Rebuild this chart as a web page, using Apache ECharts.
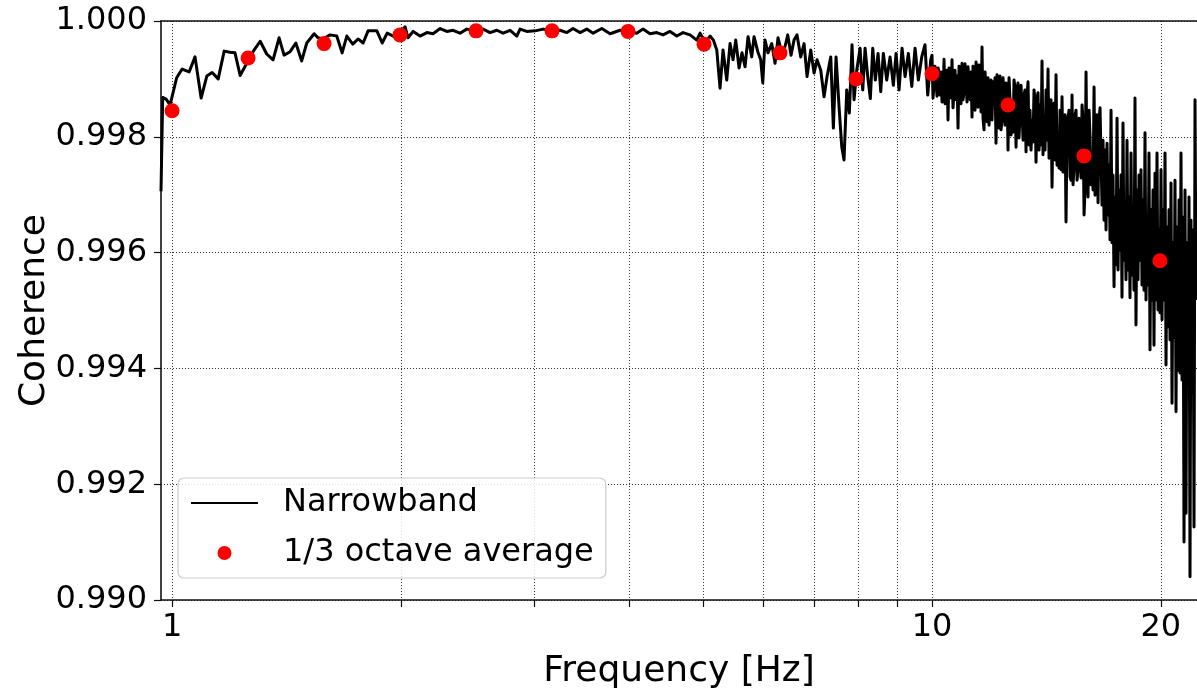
<!DOCTYPE html>
<html>
<head>
<meta charset="utf-8">
<script src="https://cdn.jsdelivr.net/npm/echarts@6.0.0/dist/echarts.min.js"></script>
<style>
  html, body { margin: 0; padding: 0; background: #fff; }
  #main { width: 1197px; height: 691px; }
</style>
</head>
<body>
<div id="main"></div>
<script>
// narrowband coherence, [frequency Hz, coherence]
const narrowband = [
  [0.967,0.99706],[0.972,0.99868],[0.982,0.99865],[0.994,0.99855],[1.014,0.99902],[1.031,0.99917],[1.053,0.99912],[1.072,0.99938],
  [1.092,0.99867],[1.111,0.99905],[1.129,0.99911],[1.150,0.99900],[1.171,0.99948],[1.192,0.99946],[1.210,0.99945],[1.229,0.99906],
  [1.254,0.99927],[1.278,0.99947],[1.306,0.99965],[1.332,0.99943],[1.358,0.99933],[1.383,0.99971],[1.404,0.99941],[1.430,0.99947],
  [1.455,0.99962],[1.481,0.99931],[1.504,0.99962],[1.538,0.99978],[1.556,0.99971],[1.580,0.99969],[1.614,0.99976],[1.647,0.99974],
  [1.674,0.99945],[1.698,0.99974],[1.729,0.99960],[1.757,0.99969],[1.784,0.99962],[1.811,0.99983],[1.860,0.99983],[1.890,0.99962],
  [1.919,0.99979],[1.954,0.99974],[1.990,0.99979],[2.026,0.99990],[2.044,0.99971],[2.076,0.99982],[2.120,0.99974],
  [2.164,0.99980],[2.205,0.99978],[2.253,0.99987],[2.299,0.99982],[2.343,0.99984],[2.393,0.99979],[2.442,0.99986],[2.505,0.99983],
  [2.566,0.99986],[2.621,0.99980],[2.675,0.99984],[2.726,0.99979],[2.785,0.99984],[2.842,0.99974],[2.870,0.99986],[2.929,0.99982],
  [3.004,0.99983],[3.078,0.99986],[3.160,0.99983],[3.240,0.99984],[3.307,0.99980],[3.370,0.99987],[3.443,0.99980],[3.513,0.99986],
  [3.581,0.99979],[3.677,0.99987],[3.770,0.99978],[3.886,0.99984],[3.981,0.99982],[4.087,0.99979],[4.166,0.99986],[4.255,0.99978],
  [4.343,0.99980],[4.426,0.99976],[4.521,0.99982],[4.614,0.99974],[4.703,0.99980],[4.804,0.99976],[4.902,0.99967],[4.952,0.99979],
  [5.027,0.99963],[5.104,0.99974],[5.156,0.99967],
  [5.209,0.99950],[5.261,0.99884],[5.309,0.99950],[5.369,0.99898],[5.423,0.99961],[5.472,0.99933],[5.517,0.99967],[5.573,0.99919],
  [5.623,0.99945],[5.675,0.99921],[5.727,0.99973],[5.791,0.99938],[5.832,0.99973],[5.898,0.99947],[5.951,0.99933],[5.988,0.99893],
  [6.029,0.99967],[6.084,0.99945],[6.153,0.99961],[6.215,0.99927],[6.272,0.99971],[6.342,0.99945],[6.406,0.99956],[6.459,0.99976],
  [6.524,0.99941],[6.583,0.99967],[6.643,0.99976],[6.718,0.99938],[6.786,0.99961],[6.848,0.99904],[6.925,0.99950],[6.995,0.99910],
  [7.058,0.99933],[7.138,0.99915],[7.210,0.99869],[7.276,0.99904],[7.358,0.99938],[7.416,0.99815],[7.477,0.99938],[7.545,0.99852],
  [7.607,0.99783],[7.660,0.99760],[7.723,0.99881],[7.784,0.99841],[7.848,0.99959],[7.896,0.99864],[7.961,0.99915],[8.041,0.99953],
  [8.107,0.99881],[8.164,0.99953],[8.230,0.99904],[8.296,0.99866],[8.356,0.99953],[8.422,0.99898],[8.492,0.99944],[8.561,0.99878],
  [8.629,0.99944],[8.718,0.99898],[8.806,0.99938],[8.895,0.99889],[8.968,0.99944],[9.050,0.99881],[9.132,0.99953],[9.216,0.99904],
  [9.308,0.99944],[9.405,0.99887],[9.499,0.99953],[9.595,0.99898],[9.694,0.99938],[9.790,0.99959],[9.871,0.99872],[9.961,0.99933],
  [10.000,0.99941],[10.030,0.99867],[10.061,0.99889],[10.091,0.99922],[10.122,0.99898],[10.153,0.99870],[10.184,0.99919],[10.215,0.99912],
  [10.246,0.99872],[10.277,0.99912],[10.308,0.99860],[10.339,0.99864],[10.371,0.99934],[10.402,0.99857],[10.434,0.99872],[10.466,0.99915],
  [10.497,0.99829],[10.529,0.99919],[10.561,0.99898],[10.593,0.99867],[10.625,0.99933],[10.657,0.99850],[10.690,0.99877],[10.722,0.99915],
  [10.755,0.99864],[10.788,0.99905],[10.820,0.99815],[10.853,0.99922],[10.886,0.99889],[10.919,0.99857],[10.952,0.99927],[10.985,0.99864],
  [11.019,0.99877],[11.052,0.99926],[11.086,0.99898],[11.120,0.99860],[11.153,0.99921],[11.187,0.99919],[11.221,0.99864],[11.255,0.99912],
  [11.289,0.99834],[11.323,0.99922],[11.358,0.99889],[11.392,0.99846],[11.427,0.99929],[11.461,0.99912],[11.496,0.99851],[11.531,0.99924],
  [11.566,0.99915],[11.601,0.99843],[11.636,0.99955],[11.671,0.99832],[11.707,0.99812],[11.743,0.99912],[11.778,0.99886],[11.814,0.99826],
  [11.850,0.99902],[11.886,0.99820],[11.922,0.99855],[11.958,0.99898],[11.994,0.99829],[12.030,0.99895],[12.067,0.99858],[12.104,0.99902],
  [12.140,0.99789],[12.177,0.99907],[12.214,0.99881],[12.251,0.99815],[12.289,0.99905],[12.326,0.99812],[12.363,0.99829],[12.401,0.99902],
  [12.438,0.99872],[12.476,0.99820],[12.514,0.99893],[12.552,0.99889],[12.590,0.99777],[12.628,0.99902],[12.666,0.99864],[12.705,0.99803],
  [12.743,0.99846],[12.782,0.99808],[12.821,0.99898],[12.860,0.99884],[12.899,0.99782],[12.938,0.99881],[12.977,0.99893],[13.016,0.99798],
  [13.056,0.99838],[13.096,0.99889],[13.136,0.99846],[13.176,0.99794],[13.216,0.99872],[13.256,0.99881],[13.296,0.99774],[13.336,0.99872],
  [13.377,0.99895],[13.418,0.99786],[13.458,0.99846],[13.499,0.99777],[13.540,0.99829],[13.581,0.99791],[13.622,0.99881],[13.663,0.99864],
  [13.705,0.99756],[13.747,0.99867],[13.788,0.99876],[13.830,0.99777],[13.872,0.99855],[13.914,0.99786],[13.956,0.99931],[13.998,0.99769],
  [14.041,0.99834],[14.084,0.99777],[14.126,0.99881],[14.169,0.99794],[14.212,0.99917],[14.255,0.99763],[14.299,0.99812],[14.342,0.99864],
  [14.386,0.99713],[14.430,0.99846],[14.473,0.99858],[14.517,0.99760],[14.561,0.99907],[14.605,0.99751],[14.650,0.99800],[14.694,0.99746],
  [14.739,0.99846],[14.784,0.99743],[14.828,0.99869],[14.873,0.99739],[14.918,0.99760],[14.963,0.99838],[15.009,0.99653],[15.055,0.99820],
  [15.100,0.99834],[15.146,0.99846],[15.192,0.99731],[15.238,0.99725],[15.285,0.99872],[15.331,0.99717],[15.378,0.99748],[15.425,0.99838],
  [15.471,0.99846],[15.518,0.99725],[15.565,0.99743],[15.612,0.99832],[15.660,0.99829],[15.708,0.99729],[15.755,0.99855],[15.803,0.99829],
  [15.851,0.99665],[15.899,0.99708],[15.947,0.99912],[15.995,0.99734],[16.044,0.99696],[16.093,0.99846],[16.142,0.99800],[16.191,0.99717],
  [16.240,0.99760],[16.289,0.99708],[16.339,0.99886],[16.388,0.99699],[16.438,0.99777],[16.488,0.99838],[16.538,0.99686],[16.588,0.99829],
  [16.638,0.99850],
  [16.689,0.99760],[16.739,0.99682],[16.790,0.99794],[16.841,0.99656],[16.892,0.99777],[16.943,0.99639],[16.995,0.99789],[17.046,0.99665],
  [17.098,0.99751],[17.150,0.99622],[17.202,0.99846],[17.254,0.99617],[17.306,0.99734],[17.359,0.99541],[17.412,0.99696],[17.465,0.99579],
  [17.518,0.99832],[17.571,0.99570],[17.624,0.99708],[17.678,0.99604],[17.730,0.99734],[17.783,0.99523],[17.837,0.99824],[17.891,0.99587],
  [17.946,0.99661],[18.000,0.99553],[18.055,0.99794],[18.110,0.99570],[18.165,0.99696],[18.220,0.99522],[18.275,0.99772],[18.330,0.99561],
  [18.386,0.99682],[18.441,0.99535],[18.497,0.99867],[18.553,0.99475],[18.610,0.99708],[18.666,0.99553],[18.723,0.99734],[18.780,0.99587],
  [18.837,0.99743],[18.894,0.99544],[18.951,0.99691],[19.009,0.99535],[19.067,0.99807],[19.124,0.99518],[19.183,0.99651],[19.241,0.99544],
  [19.299,0.99772],[19.358,0.99432],[19.417,0.99674],[19.475,0.99518],[19.535,0.99708],[19.594,0.99440],[19.653,0.99737],[19.713,0.99518],
  [19.773,0.99772],[19.833,0.99501],[19.893,0.99639],[19.954,0.99496],[20.014,0.99743],[20.075,0.99484],[20.136,0.99674],[20.197,0.99518],
  [20.258,0.99772],[20.320,0.99406],[20.382,0.99644],[20.444,0.99472],[20.506,0.99674],[20.568,0.99449],[20.630,0.99720],[20.692,0.99340],
  [20.755,0.99617],[20.818,0.99454],[20.881,0.99725],[20.945,0.99325],[21.008,0.99644],[21.072,0.99397],[21.136,0.99691],[21.200,0.99392],
  [21.264,0.99772],[21.329,0.99380],[21.394,0.99661],[21.459,0.99100],[21.524,0.99708],[21.589,0.99150],[21.655,0.99617],[21.720,0.99385],
  [21.786,0.99696],[21.852,0.99040],[21.918,0.99656],[21.985,0.99358],[22.052,0.99639],[22.119,0.99126],[22.186,0.99864],[22.253,0.99518]
];

// 1/3 octave band centres and averaged coherence
const octaveFreq = [1, 1.259, 1.585, 1.995, 2.512, 3.162, 3.981, 5.012, 6.310, 7.943, 10, 12.59, 15.85, 19.95];
const octaveCoh = [0.99845, 0.99936, 0.99961, 0.99976, 0.99983, 0.99983, 0.99982, 0.99960, 0.99945, 0.99900, 0.99909, 0.99855, 0.99767, 0.99586];

const xTickVals = [1, 2, 3, 4, 5, 6, 7, 8, 9, 10, 20];
const xLabelVals = [1, 10, 20];

const chart = echarts.init(document.getElementById('main'));

const axisColor = '#111';
const gridLine = { show: true, lineStyle: { color: '#333', width: 1, type: [1, 2] } };

const option = {
  animation: false,
  textStyle: { fontFamily: 'DejaVu Sans' },
  grid: { left: 161, right: 0, top: 21, bottom: 91, outerBoundsMode: 'none' },
  legend: {
    left: 178, top: 478, orient: 'vertical',
    itemWidth: 67, itemHeight: 14, itemGap: 18,
    padding: [9, 12, 9, 12],
    backgroundColor: 'rgba(255,255,255,0.85)',
    borderColor: '#ccc', borderWidth: 1.2, borderRadius: 6,
    textStyle: { fontSize: 32, color: '#000', padding: [0, 0, 0, 20] },
    data: [
      { name: 'Narrowband', itemStyle: { opacity: 0 } },
      { name: '1/3 octave average', icon: 'circle' }
    ]
  },
  xAxis: [
    {
      type: 'log', logBase: 10, min: 0.967, max: 22.32,
      name: 'Frequency [Hz]', nameLocation: 'middle', nameGap: 54,
      nameTextStyle: { fontSize: 36, color: '#000' },
      axisLine: { show: true, onZero: false, lineStyle: { color: axisColor, width: 1.6 } },
      axisTick: { show: true, length: 7, customValues: xTickVals, lineStyle: { color: axisColor, width: 1.2 } },
      axisLabel: { customValues: xLabelVals, fontSize: 32, color: '#000', margin: 12,
        formatter: v => String(Math.round(v)) },
      splitLine: gridLine
    },
    {
      type: 'log', logBase: 10, min: 0.967, max: 22.32, position: 'top',
      axisLine: { show: true, onZero: false, lineStyle: { color: axisColor, width: 1.6 } },
      axisTick: { show: false }, axisLabel: { show: false }, splitLine: { show: false }
    }
  ],
  yAxis: {
    type: 'value', min: 0.990, max: 1.000, interval: 0.002,
    name: 'Coherence', nameLocation: 'middle', nameGap: 108, nameMoveOverlap: false,
    nameTextStyle: { fontSize: 36, color: '#000' },
    axisLine: { show: true, onZero: false, lineStyle: { color: axisColor, width: 1.6 } },
    axisTick: { show: true, length: 7, lineStyle: { color: axisColor, width: 1.2 } },
    axisLabel: { fontSize: 32, color: '#000', margin: 14, formatter: v => v.toFixed(3) },
    splitLine: gridLine
  },
  series: [
    {
      name: 'Narrowband', type: 'line', xAxisIndex: 0,
      data: narrowband, symbol: 'none', clip: true,
      lineStyle: { color: '#000', width: 3, join: 'round' },
      itemStyle: { color: '#000' }, z: 2
    },
    {
      name: '1/3 octave average', type: 'scatter', xAxisIndex: 0,
      data: octaveFreq.map((f, i) => [f, octaveCoh[i]]),
      symbolSize: 15, itemStyle: { color: '#ff0000', opacity: 1 }, z: 3
    }
  ]
};

chart.setOption(option);
</script>
</body>
</html>
